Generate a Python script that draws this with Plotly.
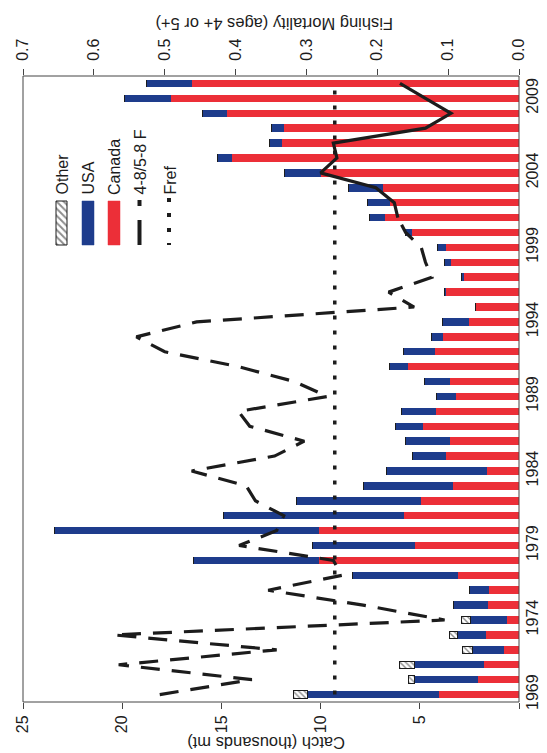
import plotly.graph_objects as go

# ---------------- data ----------------
years = list(range(1969, 2011))
canada = [4.05, 2.05, 1.74, 0.75, 1.68, 0.62, 1.58, 1.52, 3.05, 10.1,
          5.23, 10.1, 5.8, 4.95, 3.32, 1.6, 3.66, 3.47, 4.84, 4.17,
          3.18, 3.46, 5.58, 4.22, 3.81, 2.52, 2.17, 3.68, 2.79, 3.45,
          3.68, 5.38, 6.74, 6.51, 6.85, 10.0, 14.46, 11.97, 11.85, 14.74,
          17.55, 16.5]
usa = [6.6, 3.2, 3.52, 1.58, 1.42, 1.83, 1.72, 1.0, 5.35, 6.3,
       5.2, 13.3, 9.1, 6.28, 4.5, 5.1, 1.73, 2.24, 1.39, 1.76,
       0.99, 1.29, 0.95, 1.61, 0.58, 1.32, 0.0, 0.08, 0.1, 0.31,
       0.41, 0.35, 0.79, 1.12, 1.75, 1.84, 0.76, 0.6, 0.61, 1.2,
       2.31, 2.29]
other = [0.72, 0.33, 0.78, 0.52, 0.4, 0.45] + [0.0] * 36

f_years_48 = list(range(1969, 2002))
f_48 = [0.507, 0.377, 0.565, 0.342, 0.572, 0.105, 0.22, 0.354, 0.25, 0.262,
        0.395, 0.342, 0.332, 0.372, 0.385, 0.462, 0.345, 0.303, 0.38, 0.396,
        0.27, 0.317, 0.396, 0.5, 0.54, 0.455, 0.148, 0.184, 0.123, 0.132,
        0.138, 0.16, 0.171]
f_years_58 = list(range(2001, 2011))
f_58 = [0.171, 0.176, 0.202, 0.28, 0.257, 0.262, 0.132, 0.096, 0.132, 0.168]
fref = 0.26

year_ticks = [1969, 1974, 1979, 1984, 1989, 1994, 1999, 2004, 2009]
catch_ticks = [0, 5, 10, 15, 20, 25]
catch_ticktext = ["", "5", "10", "15", "20", "25"]
f_ticks = [0.0, 0.1, 0.2, 0.3, 0.4, 0.5, 0.6, 0.7]

RED = "#EC2F38"
BLUE = "#1E3C8C"
BLACK = "#1c1c1c"
FONT = "Liberation Sans, Arial, sans-serif"

# plot area in pixels
W, H = 547, 753
PL, PR, PT, PB = 15, 511, 68, 694


def px(xp):
    return (xp - PL) / (PR - PL)


def py(yp):
    return (PB - yp) / (PB - PT)


fig = go.Figure()

fig.add_trace(go.Bar(y=years, x=canada, orientation="h", name="Canada",
                     marker=dict(color=RED, line=dict(width=0)),
                     xaxis="x", yaxis="y"))
fig.add_trace(go.Bar(y=years, x=usa, orientation="h", name="USA",
                     marker=dict(color=BLUE, line=dict(width=0)),
                     xaxis="x", yaxis="y"))
fig.add_trace(go.Bar(y=years, x=other, orientation="h", name="Other",
                     marker=dict(color="white",
                                 line=dict(color=BLACK, width=1),
                                 pattern=dict(shape="\\", fgcolor=BLACK,
                                              bgcolor="white", size=4,
                                              solidity=0.35)),
                     xaxis="x", yaxis="y"))

fig.add_trace(go.Scatter(x=[fref, fref], y=[years[0], years[-1]], mode="lines",
                         line=dict(color=BLACK, width=3.5, dash="4px,11px"),
                         xaxis="x2", yaxis="y", name="Fref"))
fig.add_trace(go.Scatter(x=f_48, y=f_years_48, mode="lines",
                         line=dict(color=BLACK, width=3.2, dash="19px,12px"),
                         xaxis="x2", yaxis="y", name="4-8 F"))
fig.add_trace(go.Scatter(x=f_58, y=f_years_58, mode="lines",
                         line=dict(color=BLACK, width=3.2),
                         xaxis="x2", yaxis="y", name="5-8 F"))

# ---------------- rotated legend (pixel-mapped helper axes) ----------------
def rect(x0, x1, y0, y1):
    return [x0, x1, x1, x0, x0], [y0, y0, y1, y1, y0]

sy0, sy1 = 193, 237
xs, ys = rect(48, 59, sy0, sy1)
fig.add_trace(go.Scatter(x=xs, y=ys, mode="lines", fill="toself",
                         fillcolor="white",
                         fillpattern=dict(shape="\\", fgcolor=BLACK, bgcolor="white",
                                          size=5, solidity=0.4),
                         line=dict(color=BLACK, width=1),
                         xaxis="x3", yaxis="y3", hoverinfo="skip"))
xs, ys = rect(74, 86, sy0, sy1)
fig.add_trace(go.Scatter(x=xs, y=ys, mode="lines", fill="toself", fillcolor=BLUE,
                         line=dict(color=BLUE, width=0.5),
                         xaxis="x3", yaxis="y3", hoverinfo="skip"))
xs, ys = rect(100, 112, sy0, sy1)
fig.add_trace(go.Scatter(x=xs, y=ys, mode="lines", fill="toself", fillcolor=RED,
                         line=dict(color=RED, width=0.5),
                         xaxis="x3", yaxis="y3", hoverinfo="skip"))
fig.add_trace(go.Scatter(x=[131.5, 131.5, None, 131.5, 131.5],
                         y=[192, 198, None, 212, 237], mode="lines",
                         line=dict(color=BLACK, width=4),
                         xaxis="x3", yaxis="y3", hoverinfo="skip"))
fig.add_trace(go.Scatter(x=[161, 161], y=[190, 237], mode="lines",
                         line=dict(color=BLACK, width=4, dash="4px,11px"),
                         xaxis="x3", yaxis="y3", hoverinfo="skip"))

legend_items = [("Other", 54), ("USA", 80), ("Canada", 106),
                ("4-8/5-8 F", 132), ("Fref", 162)]
annotations = []
for label, xc in legend_items:
    annotations.append(dict(text=label, x=px(xc), y=py(189), xref="paper", yref="paper",
                            xanchor="center", yanchor="bottom", textangle=-90,
                            showarrow=False,
                            font=dict(family=FONT, size=16, color=BLACK)))

annotations.append(dict(text="Catch (thousands mt)", x=px(258), y=py(735),
                        xref="paper", yref="paper", xanchor="center", yanchor="middle",
                        textangle=180, showarrow=False,
                        font=dict(family=FONT, size=16.5, color=BLACK)))
annotations.append(dict(text="Fishing Mortality (ages 4+ or 5+)", x=px(266), y=py(16),
                        xref="paper", yref="paper", xanchor="center", yanchor="middle",
                        textangle=180, showarrow=False,
                        font=dict(family=FONT, size=16.5, color=BLACK)))

TICKFONT = dict(family=FONT, size=16, color=BLACK)

fig.update_layout(
    width=W, height=H,
    margin=dict(l=PL, r=W - PR, t=PT, b=H - PB, autoexpand=False),
    paper_bgcolor="white", plot_bgcolor="white",
    barmode="stack", bargap=0.5,
    showlegend=False,
    font=dict(family=FONT, size=15, color=BLACK),
    xaxis=dict(range=[25, 0], tickvals=catch_ticks, ticktext=catch_ticktext,
               tickangle=-90, ticks="outside", ticklen=6, tickcolor="#444",
               tickfont=TICKFONT,
               showgrid=False, zeroline=False, showline=False, automargin=False,
               side="bottom", fixedrange=True),
    xaxis2=dict(range=[0.7, 0], overlaying="x", side="top", tickvals=f_ticks,
                tickformat=".1f", tickangle=-90, ticks="outside", ticklen=6,
                tickcolor="#444", tickfont=TICKFONT,
                showgrid=False, zeroline=False, showline=False,
                automargin=False, anchor="y", ticklabelstandoff=5),
    yaxis=dict(range=[1968.5, 2010.5], side="right", tickvals=year_ticks,
               tickangle=-90, ticks="", tickfont=TICKFONT,
               showgrid=False, zeroline=False,
               showline=False, automargin=False, ticklabelstandoff=2),
    xaxis3=dict(range=[PL, PR], overlaying="x", visible=False, anchor="y3"),
    yaxis3=dict(range=[PB, PT], overlaying="y", visible=False, anchor="x3"),
    annotations=annotations,
    shapes=[dict(type="rect", xref="paper", yref="paper", x0=0, x1=1, y0=0, y1=1,
                 line=dict(color="#444", width=1), layer="above")],
)

fig.write_html("out.html")
